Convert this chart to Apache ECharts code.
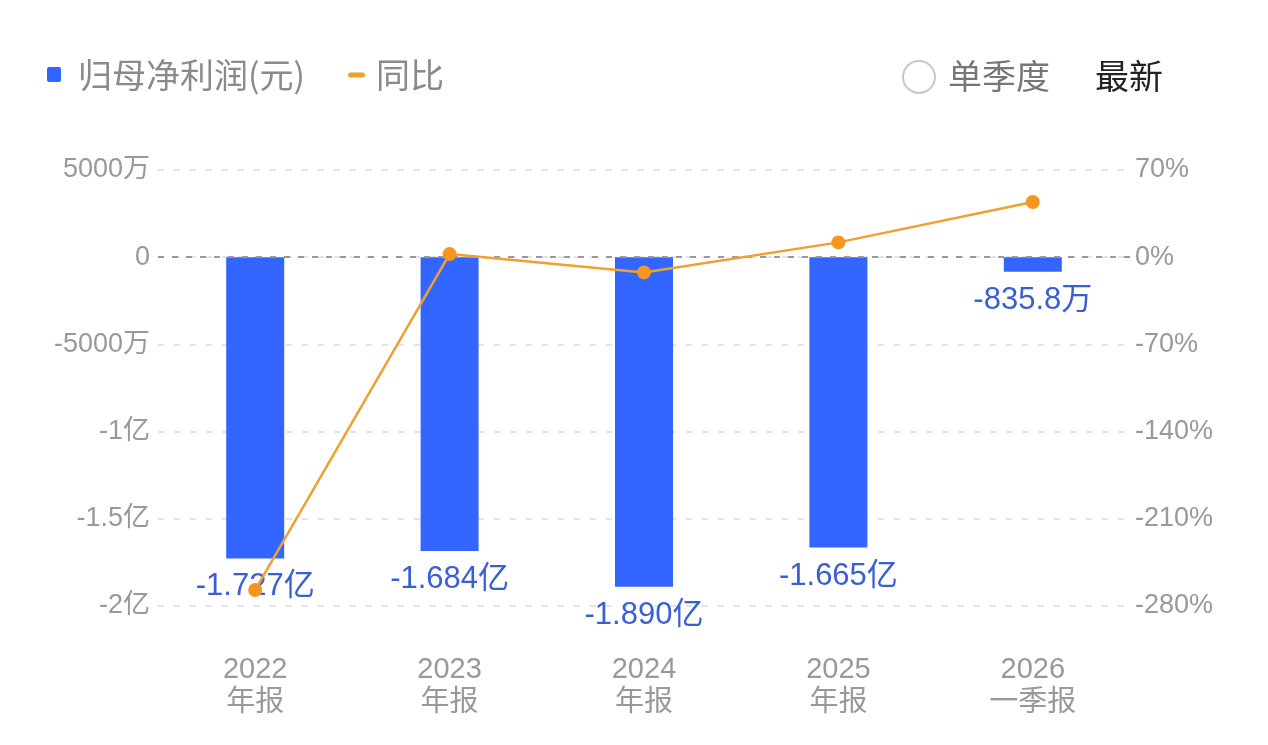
<!DOCTYPE html>
<html>
<head>
<meta charset="utf-8">
<script src="https://cdn.jsdelivr.net/npm/echarts@6/dist/echarts.min.js"></script>
<style>
  html, body { margin: 0; padding: 0; background: #fff; }
  #chart { width: 1268px; height: 745px; }
</style>
</head>
<body>
<div id="chart"></div>
<script>
const categories = ["2022\n年报", "2023\n年报", "2024\n年报", "2025\n年报", "2026\n一季报"];
// 归母净利润, 元
const profit = [-172700000, -168400000, -189000000, -166500000, -8358000];
// 同比, %
const yoy = [-267.1, 2.5, -12.2, 11.9, 44.3];
const leftTicks = { min: -200000000, max: 50000000, interval: 50000000 };
const rightTicks = { min: -280, max: 70, interval: 70 };

const CJK = "'Noto Sans CJK SC', 'Noto Sans', sans-serif";
const NUM = "'Liberation Sans', 'Noto Sans CJK SC', sans-serif";
const BAR_COLOR = "#3366ff";
const LINE_COLOR = "#f0a030";

function fmtMoney(v) {
  if (v === 0) return "0";
  const a = Math.abs(v);
  if (a >= 1e8) return +(v / 1e8).toFixed(3) + "亿";
  return +(v / 1e4).toFixed(1) + "万";
}
function fmtLabel(v) {
  const a = Math.abs(v);
  if (a >= 1e8) return (v / 1e8).toFixed(3) + "亿";
  return (v / 1e4).toFixed(1) + "万";
}

const chart = echarts.init(document.getElementById("chart"));
chart.setOption({
  animation: false,
  textStyle: { fontFamily: CJK },
  // legend row drawn by hand (bar square + short line dash)
  graphic: [
    { type: "rect", shape: { x: 47, y: 67, width: 14, height: 15, r: 2 }, style: { fill: BAR_COLOR } },
    { type: "text", x: 78, y: 75, style: { text: "归母净利润(元)", fontSize: 34, fill: "#8a8a8a", fontFamily: CJK, verticalAlign: "middle" } },
    { type: "rect", shape: { x: 348, y: 72.5, width: 17, height: 5, r: 2.5 }, style: { fill: LINE_COLOR } },
    { type: "text", x: 376, y: 75, style: { text: "同比", fontSize: 34, fill: "#8a8a8a", fontFamily: CJK, verticalAlign: "middle" } },
    { type: "circle", shape: { cx: 919, cy: 77, r: 16 }, style: { fill: "#fff", stroke: "#c8c8c8", lineWidth: 2 } },
    { type: "text", x: 948, y: 76, style: { text: "单季度", fontSize: 34, fill: "#777", fontFamily: CJK, verticalAlign: "middle" } },
    { type: "text", x: 1095, y: 76, style: { text: "最新", fontSize: 34, fill: "#222", fontFamily: CJK, verticalAlign: "middle" } },
  ],
  grid: { left: 158, right: 138, top: 170, bottom: 139 },
  xAxis: {
    type: "category",
    data: categories,
    axisLine: { show: false, onZero: false },
    axisTick: { show: false },
    axisLabel: { color: "#999", fontSize: 29, lineHeight: 33, margin: 47, fontFamily: NUM },
  },
  yAxis: [
    {
      type: "value",
      min: leftTicks.min,
      max: leftTicks.max,
      interval: leftTicks.interval,
      axisLine: { show: false },
      axisTick: { show: false },
      axisLabel: { color: "#999", fontSize: 27, margin: 8, fontFamily: NUM, formatter: fmtMoney },
      splitLine: { lineStyle: { color: "#e3e3e3", type: [6, 10], width: 2 } },
    },
    {
      type: "value",
      min: rightTicks.min,
      max: rightTicks.max,
      interval: rightTicks.interval,
      axisLine: { show: false },
      axisTick: { show: false },
      axisLabel: { color: "#999", fontSize: 27, margin: 5, fontFamily: NUM, formatter: "{value}%" },
      splitLine: { show: false },
    },
  ],
  series: [
    {
      name: "归母净利润(元)",
      type: "bar",
      data: profit,
      barWidth: 58,
      itemStyle: { color: BAR_COLOR },
      label: {
        show: true,
        position: "bottom",
        distance: 13,
        color: "#3a5fd4",
        fontSize: 31,
        fontFamily: NUM,
        formatter: (p) => fmtLabel(p.value),
      },
      markLine: {
        silent: true,
        symbol: "none",
        label: { show: false },
        lineStyle: { color: "#999", type: [6, 8], width: 2 },
        data: [{ yAxis: 0 }],
      },
    },
    {
      name: "同比",
      type: "line",
      yAxisIndex: 1,
      data: yoy,
      symbol: "circle",
      symbolSize: 14,
      lineStyle: { color: LINE_COLOR, width: 2.5 },
      itemStyle: { color: "#f5961e" },
      z: 5,
    },
  ],
});
</script>
</body>
</html>
